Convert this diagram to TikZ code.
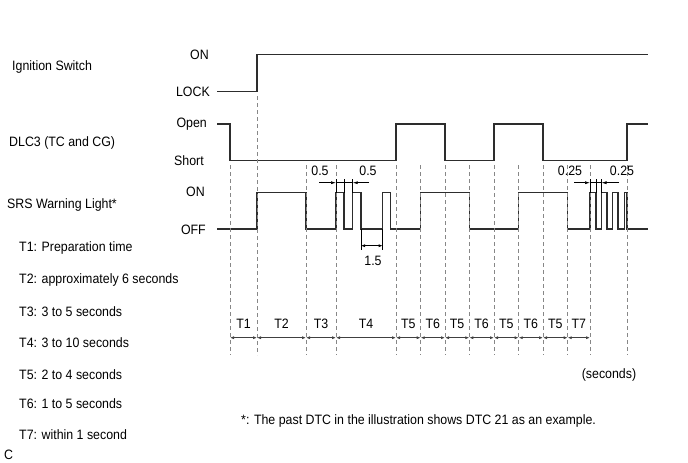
\documentclass[tikz,border=0pt]{standalone}
\usepackage{fontspec}
\setmainfont{Liberation Sans}[FakeStretch=0.91]
\usetikzlibrary{positioning, arrows.meta, calc}
\definecolor{sigCol}{RGB}{45,45,45}
\definecolor{dashCol}{RGB}{135,135,135}
\tikzset{
  every node/.style={font=\fontsize{13.6}{16}\selectfont, inner sep=1pt},
  SIG/.style={line width=1.3pt, sigCol},
  DSH/.style={dashCol, line width=0.8pt, dash pattern=on 4pt off 3pt},
  EXT/.style={black, line width=0.6pt},
  DIM/.style={-{Latex[length=5pt,width=3pt]}, black, line width=0.6pt},
  SPAN/.style={{Latex[length=4pt,width=3pt]}-{Latex[length=4pt,width=3pt]}, black!75, line width=0.7pt},
  LVL/.style={anchor=east},
  NAME/.style={anchor=west},
  LEG/.style={anchor=west},
}

\begin{document}
\begin{tikzpicture}[x=1pt, y=1pt, yscale=-1]

\useasboundingbox (0,0) rectangle (688,463);

\def\xs{217}
\def\xe{648}
\def\on{192.7}
\def\off{229}

%% ═══════════════════════════════════════════════════════════════════════════
%%  Signal names and levels
%% ═══════════════════════════════════════════════════════════════════════════

\node[NAME] (nIG)  at (11,67)  {Ignition Switch};
\node[NAME] (nDLC) at (8,143)  {DLC3 (TC and CG)};
\node[NAME] (nSRS) at (6,205)  {SRS Warning Light*};

\node[LVL] (lvOn)    at (210,55)  {ON};
\node[LVL] (lvLock)  at (211,92)  {LOCK};
\node[LVL] (lvOpen)  at (208,124) {Open};
\node[LVL] (lvShort) at (205,161) {Short};
\node[LVL] (lvSOn)   at (206,192) {ON};
\node[LVL] (lvSOff)  at (207,230) {OFF};

%% ═══════════════════════════════════════════════════════════════════════════
%%  Waveforms
%% ═══════════════════════════════════════════════════════════════════════════

\draw[SIG] (\xs,91.7) -- (257,91.7) -- (257,54.7) -- (\xe,54.7);

\draw[SIG] (\xs,124) -- (230,124) -- (230,160.7) -- (396,160.7) -- (396,124)
  -- (445,124) -- (445,160.7) -- (494,160.7) -- (494,124) -- (543,124)
  -- (543,160.7) -- (627,160.7) -- (627,124) -- (\xe,124);

\draw[SIG] (\xs,\off)
  foreach \r/\f in {257/306, 336/344, 352.7/361, 382.7/390.7, 420.7/469.3,
                    518.7/567.7, 590/596, 601.5/607, 612.5/618, 624.3/627}
  { -- (\r,\off) -- (\r,\on) -- (\f,\on) -- (\f,\off) }
  -- (\xe,\off);

%% ═══════════════════════════════════════════════════════════════════════════
%%  Time marks and periods
%% ═══════════════════════════════════════════════════════════════════════════

\coordinate (dTop)  at (0,165);
\coordinate (dBot)  at (0,355);
\coordinate (spanY) at (0,337.7);
\coordinate (labY)  at (0,324);

\foreach \n/\x in {1/230, 2/257, 3/306, 4/336, 5/396, 6/420.7, 7/445,
                   8/469.3, 9/494, 10/518.7, 11/543, 12/567.7, 13/590, 14/627}
  \coordinate (m\n) at (\x,0);

\draw[DSH] (m2 |- 0,96) -- (m2 |- dBot);
\foreach \n in {1,3,4,5,6,7,8,9,10,11,12,13,14}
  \draw[DSH] (m\n |- dTop) -- (m\n |- dBot);

\foreach \a/\b/\lab [count=\k] in {1/2/T1, 2/3/T2, 3/4/T3, 4/5/T4, 5/6/T5,
    6/7/T6, 7/8/T5, 8/9/T6, 9/10/T5, 10/11/T6, 11/12/T5, 12/13/T7} {
  \draw[SPAN] (m\a |- spanY) -- (m\b |- spanY);
  \node (per\k) at ($(m\a |- labY)!0.5!(m\b |- labY)$) {\lab};
}

\node (unit) at (609,375) {(seconds)};

%% ═══════════════════════════════════════════════════════════════════════════
%%  Pulse dimensions
%% ═══════════════════════════════════════════════════════════════════════════

\foreach \x in {336,344,352.7,590,596,601.5}
  \draw[EXT] (\x,179) -- (\x,\on);

\coordinate (hA) at (336,182.7);
\coordinate (hB) at (352.7,182.7);
\draw[DIM] (319,182.7) -- (hA);
\draw[EXT] (hA) -- (hB);
\draw[DIM] (369,182.7) -- (hB);
\node (dHalfA) at (320,171) {0.5};
\node (dHalfB) at (368,171) {0.5};

\coordinate (qA) at (590,182.7);
\coordinate (qB) at (601.5,182.7);
\draw[DIM] (574,182.7) -- (qA);
\draw[EXT] (qA) -- (qB);
\draw[DIM] (619,182.7) -- (qB);
\node (dQuarA) at (570,171) {0.25};
\node (dQuarB) at (622,171) {0.25};

\draw[EXT] (361,\off) -- (361,250);
\draw[EXT] (382.7,\off) -- (382.7,250);
\draw[SPAN, black] (361,245.7) -- (382.7,245.7);
\node (dGap) at (373,261) {1.5};

%% ═══════════════════════════════════════════════════════════════════════════
%%  Legend and notes
%% ═══════════════════════════════════════════════════════════════════════════

\node[LEG] (leg1) at (18,248)   {T1: Preparation time};
\node[LEG] (leg2) at (18,280)   {T2: approximately 6 seconds};
\node[LEG] (leg3) at (18,311.7) {T3: 3 to 5 seconds};
\node[LEG] (leg4) at (18,342.7) {T4: 3 to 10 seconds};
\node[LEG] (leg5) at (18,374.3) {T5: 2 to 4 seconds};
\node[LEG] (leg6) at (18,404)   {T6: 1 to 5 seconds};
\node[LEG] (leg7) at (18,434.3) {T7: within 1 second};

\node[LEG] (note) at (240,420.7)
  {*: The past DTC in the illustration shows DTC 21 as an example.};
\node[LEG] (fig) at (3,455) {C};

\end{tikzpicture}
\end{document}
